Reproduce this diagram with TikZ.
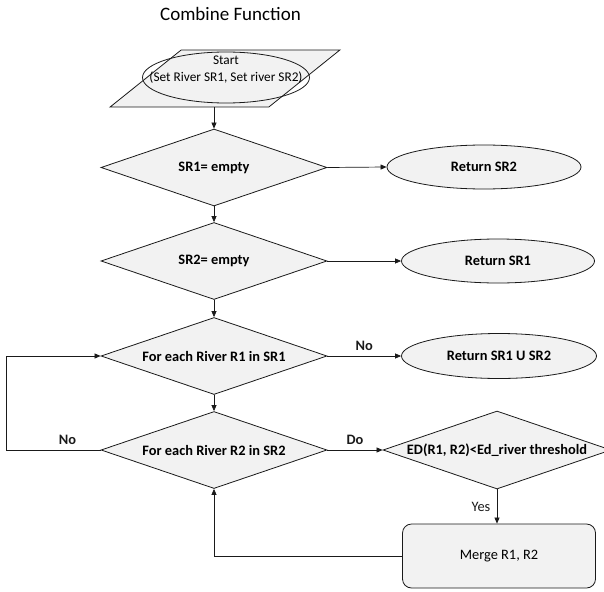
\documentclass[tikz,border=0pt]{standalone}
\usepackage{fontspec}
\setmainfont{Carlito}
\definecolor{ChartFill}{HTML}{F2F2F2}
\definecolor{ChartLine}{HTML}{1A1A1A}
\usetikzlibrary{shapes.geometric, arrows.meta, positioning, calc}

\begin{document}
\begin{tikzpicture}[
        x=1pt, y=-1pt,
        dec/.style={diamond, aspect=2.9, draw=ChartLine, fill=ChartFill, minimum width=226pt, minimum height=77pt, inner sep=0pt, align=center, font=\fontsize{14.4}{17}\selectfont\bfseries, line width=0.8pt},
        term/.style={ellipse, draw=ChartLine, fill=ChartFill, minimum width=194pt, minimum height=44pt, inner sep=0pt, font=\fontsize{14.4}{17}\selectfont\bfseries, line width=0.8pt},
        arr/.style={-{Triangle[length=6pt, width=5pt]}, line width=0.7pt, ChartLine},
        lbl/.style={font=\fontsize{14.4}{17}\selectfont\bfseries, inner sep=0pt}
    ]
    \useasboundingbox (0,0) rectangle (604,591);
    \node[font=\fontsize{19}{22}\selectfont] (title) at (230.5,14) {Combine Function};
    \node[trapezium, trapezium left angle=51, trapezium right angle=129, trapezium stretches=true, draw=ChartLine, fill=ChartFill, minimum width=230pt, minimum height=57pt, line width=0.8pt] (start) at (225,78.5) {};
    \node[ellipse, draw=ChartLine, minimum width=167pt, minimum height=51pt, line width=0.8pt] (startin) at (226,77.5) {};
    \node[align=center, font=\fontsize{13.3}{17}\selectfont] (starttxt) at (226,69.5) {Start\\(Set River SR1, Set river SR2)};
    \node[dec] (emptyA) at (214,167.5) {SR1= empty};
    \node[term] (retB) at (484,167) {Return SR2};
    \node[dec] (emptyB) at (214,261) {SR2= empty};
    \node[term, minimum width=193pt] (retA) at (498,261) {Return SR1};
    \node[dec] (loopA) at (214,356) {For each River R1 in SR1};
    \node[term, minimum width=195pt, minimum height=45pt] (retU) at (499,356) {Return SR1 U SR2};
    \node[dec] (loopB) at (214,450) {For each River R2 in SR2};
    \node[dec, minimum width=228pt, minimum height=78pt] (test) at (497,450) {ED(R1, R2)<Ed\_river threshold};
    \node[draw=ChartLine, fill=ChartFill, rounded corners=9pt, minimum width=193pt, minimum height=64pt, font=\fontsize{14.4}{17}\selectfont, line width=0.8pt] (merge) at (499,556) {Merge R1, R2};
    \coordinate (back) at (6,0);

    \draw[arr] (emptyA.north |- start.south) -- (emptyA.north);
    \draw[arr] (emptyA.east) -- (retB.west);
    \draw[arr] (emptyA) -- (emptyB);
    \draw[arr] (emptyB.east) -- (retA.west);
    \draw[arr] (emptyB) -- (loopA);
    \draw[arr] (loopA.east) -- node[lbl, above=5pt] {No} (retU.west);
    \draw[arr] (loopA) -- (loopB);
    \draw[arr] (loopB.east) -- node[lbl, above=5pt] {Do} (test.west);
    \draw[arr] (loopB.west) -- node[lbl, above=5pt, pos=0.35] {No} (loopB.west -| back) |- (loopA.west);
    \draw[arr] (test.south) -- node[left=3pt, font=\fontsize{14.4}{17}\selectfont] {Yes} (test.south |- merge.north);
    \draw[arr] (merge.west) -| (loopB.south);
\end{tikzpicture}
\end{document}
